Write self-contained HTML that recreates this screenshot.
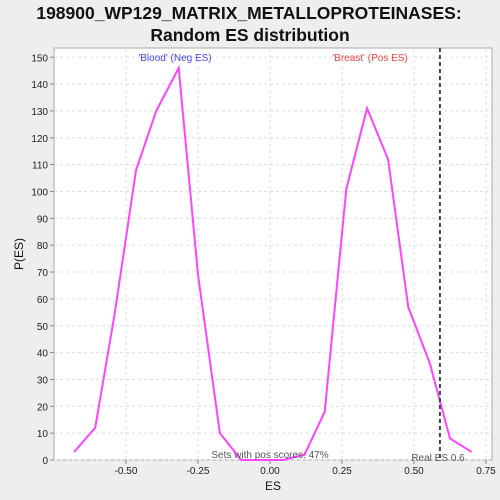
<!DOCTYPE html>
<html><head><meta charset="utf-8"><style>
body{margin:0;background:#eeeeee;}
svg{display:block;font-family:"Liberation Sans",sans-serif;}
</style></head><body>
<svg id="c" width="500" height="500">
<rect x="0" y="0" width="500" height="500" fill="#eeeeee"/>
<text x="249" y="19" text-anchor="middle" font-size="17.5" font-weight="bold" fill="#111">198900_WP129_MATRIX_METALLOPROTEINASES:</text>
<text x="250" y="41" text-anchor="middle" font-size="17.5" font-weight="bold" fill="#111">Random ES distribution</text>
<rect x="54" y="48" width="438" height="412" fill="#fff" stroke="#aaa"/>
<g id="grid"></g><g id="axes"></g><g id="series"></g>
<text x="175" y="61" text-anchor="middle" font-size="10" fill="#4444ee">'Blood' (Neg ES)</text>
<text x="370" y="61" text-anchor="middle" font-size="10" fill="#ee4444">'Breast' (Pos ES)</text>
<text x="270" y="458" text-anchor="middle" font-size="10" fill="#555">Sets with pos scores: 47%</text>
<text x="438" y="461" text-anchor="middle" font-size="10" fill="#555">Real ES 0.6</text>
<text x="273" y="490" text-anchor="middle" font-size="12" fill="#111">ES</text>
<text x="23" y="254" text-anchor="middle" font-size="12" fill="#111" transform="rotate(-90 23 254)">P(ES)</text>
</svg>
<script>
const xs=[-0.68,-0.607,-0.54,-0.465,-0.395,-0.317,-0.25,-0.174,-0.1,-0.03,0.045,0.12,0.19,0.265,0.337,0.41,0.48,0.555,0.625,0.7];
const ys=[3,12,54,108,130,146,69,10,0,0,0,2,18,101,131,112,57,36,8,3];
const xTicks=[-0.5,-0.25,0,0.25,0.5,0.75];
const xTickLabels=["-0.50","-0.25","0.00","0.25","0.50","0.75"];
const yTicks=[0,10,20,30,40,50,60,70,80,90,100,110,120,130,140,150];
const realES=[0.59];
const NS="http://www.w3.org/2000/svg";
function X(v){return 270+v*288;}
function Y(v){return 460-v*2.685;}
function mk(t,a,p){const e=document.createElementNS(NS,t);for(const k in a)e.setAttribute(k,a[k]);p.appendChild(e);return e;}
const g=document.getElementById('grid'),ax=document.getElementById('axes'),s=document.getElementById('series');
xTicks.forEach((v,i)=>{
 const l=mk('line',{x1:X(v),x2:X(v),y1:48,y2:460,stroke:'#ddd','stroke-dasharray':'3,3'},g);
 
 
 const tk=mk('line',{x1:X(v),x2:X(v),y1:460,y2:464,stroke:'#888'},ax);
 
 
 const t=mk('text',{x:X(v),y:474,'text-anchor':'middle','font-size':10,fill:'#222'},ax);
 t.textContent=xTickLabels[i];
 
 
});
yTicks.forEach(v=>{
 const l=mk('line',{x1:54,x2:492,y1:Y(v),y2:Y(v),stroke:'#ddd','stroke-dasharray':'3,3'},g);
 
 
 const tk=mk('line',{x1:50,x2:54,y1:Y(v),y2:Y(v),stroke:'#888'},ax);
 
 
 const t=mk('text',{x:48,y:Y(v)+4,'text-anchor':'end','font-size':10,fill:'#222'},ax);
 t.textContent=v;
 
 
});
const pl=mk('polyline',{points:xs.map((x,i)=>X(x)+','+Y(ys[i])).join(' '),fill:'none',stroke:'#ff44ff','stroke-width':2},s);


const rl=mk('line',{x1:X(realES[0]),x2:X(realES[0]),y1:48,y2:460,stroke:'#444','stroke-width':2,'stroke-dasharray':'4,3'},s);


</script>
</body></html>
